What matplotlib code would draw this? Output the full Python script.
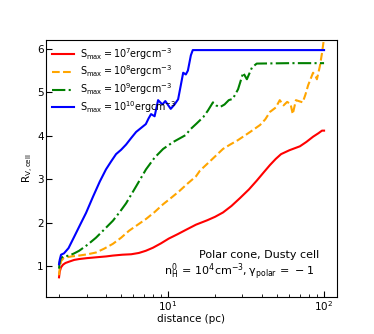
import matplotlib
matplotlib.use('Agg')
import matplotlib.pyplot as plt
import numpy as np

# S_max = 1e7
d_7 = [2.0, 2.02, 2.06, 2.12, 2.2, 2.32, 2.5, 2.69, 3.0, 3.45, 4.0, 4.43, 5.1, 5.8, 6.5,
       7.2, 8.0, 9.0, 10.1, 11.5, 13.0, 15.1, 17.8, 20.0, 22.5, 25.5, 28.9, 33.0, 37.0,
       41.0, 45.0, 49.0, 53.0, 60.0, 70.0, 77.0, 85.0, 92.0, 97.0, 100.0]
r_7 = [0.75, 0.88, 0.98, 1.04, 1.08, 1.11, 1.15, 1.17, 1.19, 1.21, 1.23, 1.25, 1.27,
       1.28, 1.31, 1.36, 1.43, 1.53, 1.64, 1.74, 1.84, 1.96, 2.06, 2.14, 2.24, 2.39, 2.57,
       2.77, 2.97, 3.16, 3.33, 3.47, 3.58, 3.67, 3.76, 3.86, 3.98, 4.06, 4.12, 4.12]

# S_max = 1e8
d_8 = [2.0, 2.02, 2.06, 2.15, 2.4, 2.69, 3.05, 3.45, 3.9, 4.43, 5.0, 5.62, 6.4, 7.22,
       8.2, 9.3, 10.5, 11.8, 13.3, 15.1, 16.0, 19.0, 22.5, 25.0, 28.0, 33.6, 38.9, 42.0,
       45.0, 49.0, 52.0, 55.0, 58.0, 61.0, 63.0, 66.0, 70.0, 73.0, 76.0, 79.0, 85.0, 88.0,
       90.0, 94.0, 97.0, 100.0]
r_8 = [0.8, 0.95, 1.12, 1.2, 1.23, 1.25, 1.28, 1.32, 1.41, 1.52, 1.66, 1.82, 1.96, 2.09,
       2.25, 2.43, 2.58, 2.73, 2.9, 3.07, 3.2, 3.45, 3.7, 3.8, 3.9, 4.09, 4.25, 4.38, 4.55,
       4.65, 4.82, 4.7, 4.78, 4.73, 4.5, 4.82, 4.79, 4.77, 4.95, 5.16, 5.45, 5.38, 5.3,
       5.6, 5.9, 6.25]

# S_max = 1e9
d_9 = [2.0, 2.02, 2.06, 2.15, 2.32, 2.5, 2.69, 3.05, 3.45, 3.9, 4.43, 4.9, 5.38, 6.24,
       7.22, 8.2, 9.3, 10.8, 13.0, 13.8, 15.2, 16.8, 18.0, 19.4, 20.3, 21.5, 23.0, 24.5,
       26.0, 28.1, 30.3, 32.0, 34.5, 37.0, 60.0, 100.0]
r_9 = [0.95, 1.1, 1.2, 1.23, 1.25, 1.3, 1.36, 1.5, 1.66, 1.85, 2.05, 2.25, 2.45, 2.84,
       3.23, 3.5, 3.7, 3.86, 4.02, 4.14, 4.28, 4.43, 4.58, 4.77, 4.7, 4.66, 4.72, 4.82,
       4.85, 5.07, 5.45, 5.3, 5.57, 5.66, 5.67, 5.67]

# S_max = 1e10
d_10 = [2.0, 2.02, 2.06, 2.15, 2.3, 2.5, 2.75, 2.98, 3.3, 3.65, 4.0, 4.31, 4.64, 5.0,
        5.38, 5.8, 6.24, 7.2, 7.5, 7.78, 8.2, 8.63, 9.2, 9.6, 10.4, 11.0, 11.6, 12.5, 13.0,
        13.4, 14.0, 14.4, 100.0]
r_10 = [1.05, 1.15, 1.27, 1.3, 1.42, 1.68, 1.98, 2.23, 2.6, 2.95, 3.23, 3.41, 3.58, 3.68,
        3.8, 3.95, 4.09, 4.27, 4.4, 4.5, 4.45, 4.82, 4.72, 4.8, 4.62, 4.72, 4.84, 5.45,
        5.41, 5.5, 5.85, 5.97, 5.97]

labels = [r'$\mathrm{S_{max}=10^{7}ergcm^{-3}}$',
          r'$\mathrm{S_{max}=10^{8}ergcm^{-3}}$',
          r'$\mathrm{S_{max}=10^{9}ergcm^{-3}}$',
          r'$\mathrm{S_{max}=10^{10}ergcm^{-3}}$']

fig = plt.figure(figsize=(3.74, 3.34), dpi=100)
ax = fig.add_axes([0.123, 0.111, 0.778, 0.769])

ax.plot(d_7, r_7, color='red', ls='-', lw=1.5, label=labels[0])
ax.plot(d_8, r_8, color='orange', ls='--', lw=1.5, label=labels[1])
ax.plot(d_9, r_9, color='green', ls='-.', lw=1.5, label=labels[2])
ax.plot(d_10, r_10, color='blue', ls='-', lw=1.5, label=labels[3])

ax.set_xscale('log')
ax.set_xlim(1.65, 121)
ax.set_ylim(0.3, 6.2)
ax.set_yticks([1, 2, 3, 4, 5, 6])
ax.tick_params(which='both', direction='in', labelsize=7.5, pad=1.5)
ax.tick_params(which='major', length=4)
ax.tick_params(which='minor', length=2.5)

ax.set_xlabel('distance (pc)', fontsize=7.5, labelpad=1)
ax.set_ylabel(r'$\mathrm{R_{V,cell}}$', fontsize=7.5, labelpad=1)

ax.legend(loc='upper left', frameon=False, fontsize=6.9, handlelength=2.3,
          borderaxespad=0.2, labelspacing=0.2, handletextpad=0.6)

ax.text(0.732, 0.165, 'Polar cone, Dusty cell', transform=ax.transAxes,
        ha='center', va='center', fontsize=8)
ax.text(0.665, 0.10, r'$\mathrm{n_H^0\,=\,10^4cm^{-3},\gamma_{polar}\,=\,-1}$',
        transform=ax.transAxes, ha='center', va='center', fontsize=8)

fig.savefig('out.png', dpi=100)
